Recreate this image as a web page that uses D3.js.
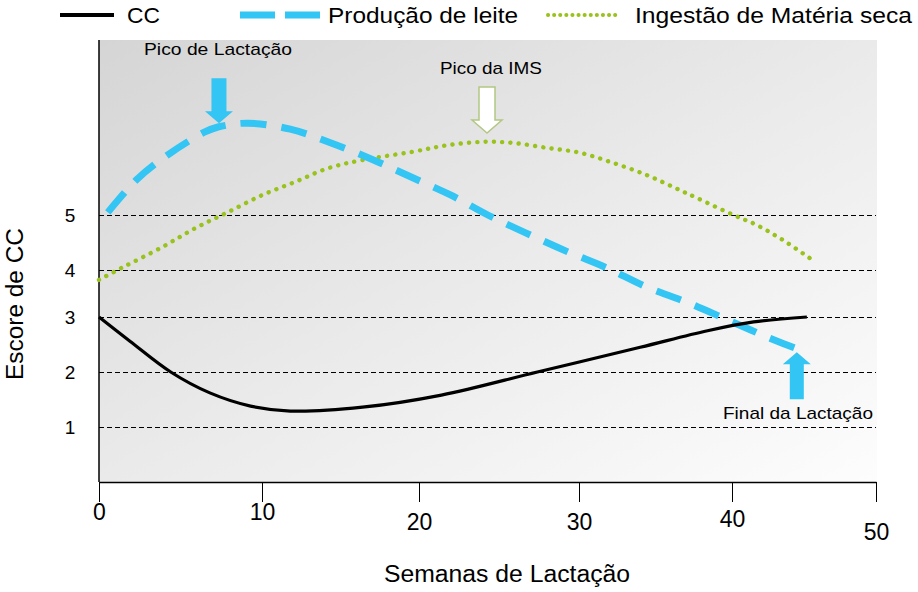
<!DOCTYPE html>
<html>
<head>
<meta charset="utf-8">
<script src="https://cdn.jsdelivr.net/npm/d3@7/dist/d3.min.js"></script>
<style>
  html, body { margin: 0; padding: 0; background: #fff; }
  text { font-family: "Liberation Sans", Arial, sans-serif; fill: #000; }
</style>
</head>
<body>
<svg id="chart" width="918" height="592"></svg>
<script>
// ---------- DATA ----------
const xTicks = [0, 10, 20, 30, 40, 50];
const yTicks = [1, 2, 3, 4, 5];

const seriesNames = ["CC", "Produção de leite", "Ingestão de Matéria seca"];

const weeksCC = [0, 1.9, 4.4, 6.8, 9.3, 11.8, 16.4, 21.4, 27.4, 34.0, 38.4, 41.5, 45.2];
const valuesCC = [3.0, 2.56, 2.0, 1.62, 1.38, 1.29, 1.36, 1.58, 2.0, 2.45, 2.75, 2.91, 3.0];

const weeksMilk = [0, 2.3, 4.2, 6.5, 7.3, 9.1, 11.8, 14.4, 17.1, 19.5, 22.0, 24.3, 26.7, 29.3, 31.8, 34.4, 37.0, 39.7, 42.4, 45.2];
const valuesMilk = [4.85, 5.64, 6.09, 6.51, 6.6, 6.67, 6.56, 6.31, 6.0, 5.69, 5.36, 5.0, 4.67, 4.33, 4.04, 3.64, 3.32, 2.95, 2.64, 2.35];

const weeksDMI = [0, 1.4, 3.9, 5.9, 7.9, 10.0, 12.1, 14.2, 16.4, 19.6, 21.8, 24.0, 25.9, 28.0, 30.1, 32.2, 34.4, 36.3, 37.7, 40.1, 41.7, 43.5, 45.6];
const valuesDMI = [3.79, 4.04, 4.42, 4.76, 5.05, 5.36, 5.6, 5.85, 6.0, 6.15, 6.27, 6.33, 6.31, 6.22, 6.13, 5.95, 5.73, 5.49, 5.31, 5.0, 4.82, 4.55, 4.18];

const annotationLabels = ["Pico de Lactação", "Pico da IMS", "Final da Lactação"];
const annotationWeeks = [7.36, 24.25, 44.5];
const annotationValues = [6.67, 6.49, 2.36];

const xTitle = "Semanas de Lactação";
const yTitle = "Escore de CC";

// ---------- LAYOUT ----------
const svg = d3.select("#chart");
const plot = { left: 99, right: 877, top: 40, bottom: 482 };

const x = d3.scaleLinear().domain(xTicks).range([99, 262, 419, 579, 732, 876]);
const y = d3.scaleLinear().domain(yTicks).range([427, 372, 317, 270, 215]);

const BLUE = "#33c5f3";
const GREEN = "#99c21c";

// background gradient
const defs = svg.append("defs");
const grad = defs.append("linearGradient").attr("id", "bg")
  .attr("x1", 0).attr("y1", 0).attr("x2", 1).attr("y2", 1);
grad.append("stop").attr("offset", 0).attr("stop-color", "#d5d5d5");
grad.append("stop").attr("offset", 0.5).attr("stop-color", "#eaeaea");
grad.append("stop").attr("offset", 1).attr("stop-color", "#fdfdfd");

svg.append("rect")
  .attr("x", plot.left).attr("y", plot.top)
  .attr("width", plot.right - plot.left).attr("height", plot.bottom - plot.top)
  .attr("fill", "url(#bg)");

// gridlines
svg.append("g").selectAll("line").data(yTicks).join("line")
  .attr("x1", plot.left).attr("x2", 876)
  .attr("y1", d => y(d) + 0.5).attr("y2", d => y(d) + 0.5)
  .attr("stroke", "#000").attr("stroke-width", 1)
  .attr("shape-rendering", "crispEdges")
  .attr("stroke-dasharray", "5,3");

// y tick labels
svg.append("g").selectAll("text").data(yTicks).join("text")
  .attr("x", 70).attr("y", d => y(d) + 7)
  .attr("text-anchor", "middle")
  .style("font-size", "19px")
  .text(d => d);

// y axis line
svg.append("line")
  .attr("x1", plot.left).attr("x2", plot.left)
  .attr("y1", plot.top).attr("y2", plot.bottom)
  .attr("stroke", "#000").attr("stroke-width", 1.5);

// x axis
const xAxis = svg.append("g")
  .attr("transform", `translate(0,${plot.bottom})`)
  .call(d3.axisBottom(x).tickValues(xTicks).tickSize(20).tickSizeOuter(0).tickPadding(0));
xAxis.select(".domain").attr("stroke", "#000").attr("stroke-width", 1.5);
xAxis.selectAll(".tick line").attr("stroke", "#000").attr("stroke-width", 1);
const labelDy = { 0: 38, 10: 38, 20: 48, 30: 48, 40: 45, 50: 58 };
xAxis.selectAll(".tick text")
  .attr("y", d => labelDy[d])
  .attr("dy", 0)
  .style("font-family", "'Liberation Sans', Arial, sans-serif")
  .style("font-size", "23px")
  .attr("fill", "#000");

// axis titles
svg.append("text")
  .attr("x", 507).attr("y", 582)
  .attr("text-anchor", "middle")
  .attr("textLength", 246).attr("lengthAdjust", "spacingAndGlyphs")
  .style("font-size", "23px")
  .text(xTitle);

svg.append("text")
  .attr("transform", "translate(23,304) rotate(-90)")
  .attr("text-anchor", "middle")
  .attr("textLength", 152).attr("lengthAdjust", "spacingAndGlyphs")
  .style("font-size", "23px")
  .text(yTitle);

// ---------- LINES ----------
const line = d3.line().x(d => x(d[0])).y(d => y(d[1])).curve(d3.curveCatmullRom.alpha(0.5));

svg.append("path")
  .datum(d3.zip(weeksDMI, valuesDMI))
  .attr("d", line)
  .attr("fill", "none").attr("stroke", GREEN)
  .attr("stroke-width", 4.4).attr("stroke-linecap", "round")
  .attr("stroke-dasharray", "0.1,8.2");

svg.append("path")
  .datum(d3.zip(weeksMilk, valuesMilk))
  .attr("d", line)
  .attr("fill", "none").attr("stroke", BLUE)
  .attr("stroke-width", 7)
  .attr("stroke-dasharray", "26,15")
  .attr("stroke-dashoffset", -14);

svg.append("path")
  .datum(d3.zip(weeksCC, valuesCC))
  .attr("d", line)
  .attr("fill", "none").attr("stroke", "#000")
  .attr("stroke-width", 3.2);

// ---------- ANNOTATIONS ----------
function arrowPath(tx, ty, dir, shaftW, headW, headH, len) {
  const s = dir;
  const hb = ty - s * headH;
  const end = ty - s * len;
  return `M${tx},${ty} L${tx - headW / 2},${hb} L${tx - shaftW / 2},${hb} L${tx - shaftW / 2},${end}` +
         ` L${tx + shaftW / 2},${end} L${tx + shaftW / 2},${hb} L${tx + headW / 2},${hb} Z`;
}

const arrowStyles = [
  { dir: 1, shaftW: 15, headW: 28, headH: 12, len: 45, fill: BLUE, stroke: "none", lx: 218, ly: 55, tl: 148 },
  { dir: 1, shaftW: 16, headW: 30, headH: 13, len: 46, fill: "#ffffff", stroke: "#b3c784", lx: 491, ly: 74, tl: 102 },
  { dir: -1, shaftW: 14, headW: 28, headH: 12, len: 47, fill: BLUE, stroke: "none", lx: 798, ly: 419, tl: 150 }
];

annotationLabels.forEach((lab, i) => {
  const st = arrowStyles[i];
  const tx = x(annotationWeeks[i]);
  const ty = y(annotationValues[i]);
  svg.append("path")
    .attr("d", arrowPath(tx, ty, st.dir, st.shaftW, st.headW, st.headH, st.len))
    .attr("fill", st.fill)
    .attr("stroke", st.stroke).attr("stroke-width", 1.5)
    .attr("stroke-linejoin", "miter");
  svg.append("text")
    .attr("x", st.lx).attr("y", st.ly)
    .attr("text-anchor", "middle")
    .attr("textLength", st.tl).attr("lengthAdjust", "spacingAndGlyphs")
    .style("font-size", "17px")
    .text(lab);
});

// ---------- LEGEND ----------
const legend = svg.append("g");
legend.append("line").attr("x1", 60).attr("x2", 114).attr("y1", 15).attr("y2", 15)
  .attr("stroke", "#000").attr("stroke-width", 4);
legend.append("line").attr("x1", 240).attr("x2", 320).attr("y1", 15).attr("y2", 15)
  .attr("stroke", BLUE).attr("stroke-width", 7).attr("stroke-dasharray", "35,10");
legend.append("line").attr("x1", 548).attr("x2", 618).attr("y1", 15).attr("y2", 15)
  .attr("stroke", GREEN).attr("stroke-width", 4).attr("stroke-linecap", "round")
  .attr("stroke-dasharray", "0.1,6");

const legendTextX = [127, 328, 635];
const legendTextLen = [33, 190, 277];
seriesNames.forEach((n, i) => {
  legend.append("text")
    .attr("x", legendTextX[i]).attr("y", 23)
    .attr("textLength", legendTextLen[i]).attr("lengthAdjust", "spacingAndGlyphs")
    .style("font-size", "22px")
    .text(n);
});
</script>
</body>
</html>
